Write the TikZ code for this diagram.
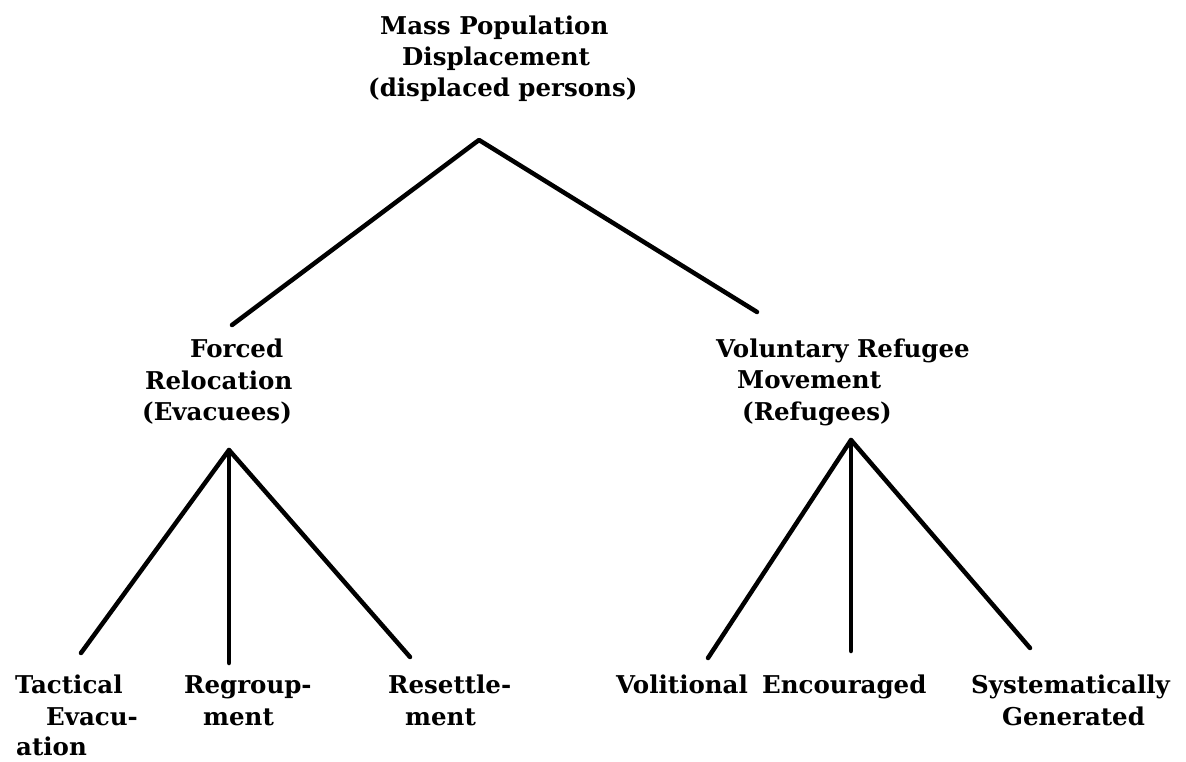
\documentclass[tikz,border=0pt]{standalone}
\usepackage{fontspec}
\setmainfont{DejaVu Serif}
\begin{document}
\begin{tikzpicture}[x=1pt,y=-1pt,
  lbl/.style={anchor=base west,inner sep=0pt,font=\fontsize{24.5}{30}\bfseries\selectfont},
  branch/.style={line width=4.5pt,line cap=round,line join=round}]
\useasboundingbox (0,0) rectangle (1186,762);
% labels
\node[lbl] (mp1) at (380,35) {Mass Population};
\node[lbl] (mp2) at (402,66) {Displacement};
\node[lbl] (mp3) at (368,97) {(displaced persons)};
\node[lbl] (fr1) at (190,357) {Forced};
\node[lbl] (fr2) at (145,389) {Relocation};
\node[lbl] (fr3) at (142,420) {(Evacuees)};
\node[lbl] (vr1) at (716,357) {Voluntary Refugee};
\node[lbl] (vr2) at (737,388) {Movement};
\node[lbl] (vr3) at (742,420) {(Refugees)};
\node[lbl] (te1) at (15,693) {Tactical};
\node[lbl] (te2) at (46,725) {Evacu-};
\node[lbl] (te3) at (16,755) {ation};
\node[lbl] (rg1) at (184,693) {Regroup-};
\node[lbl] (rg2) at (203,725) {ment};
\node[lbl] (rs1) at (388,693) {Resettle-};
\node[lbl] (rs2) at (405,725) {ment};
\node[lbl] (vo) at (616,693) {Volitional};
\node[lbl] (en) at (762,693) {Encouraged};
\node[lbl] (sg1) at (971,693) {Systematically};
\node[lbl] (sg2) at (1002,725) {Generated};
% connector points
\coordinate (a0) at (479,140);
\coordinate (aL) at (229,450);
\coordinate (aR) at (851,440);
\coordinate (eL) at (232,325);
\coordinate (eR) at (757,312);
\coordinate (eTE) at (81,653);
\coordinate (eRG) at (229,663);
\coordinate (eRS) at (410,657);
\coordinate (eVO) at (708,658);
\coordinate (eEN) at (851,651);
\coordinate (eSG) at (1030,648);
% connectors
\draw[branch] (eL) -- (a0) -- (eR);
\draw[branch] (eTE) -- (aL) -- (eRS);
\draw[branch] (aL) -- (eRG);
\draw[branch] (eVO) -- (aR) -- (eSG);
\draw[branch] (aR) -- (eEN);
\end{tikzpicture}
\end{document}
